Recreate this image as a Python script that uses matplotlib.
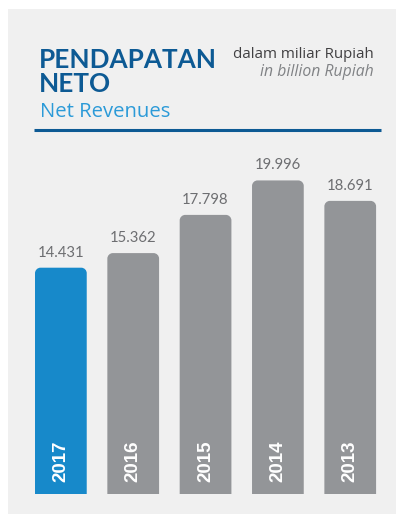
import matplotlib
matplotlib.use("Agg")
import matplotlib.pyplot as plt
from matplotlib.patches import Rectangle, PathPatch
from matplotlib.path import Path
from matplotlib.lines import Line2D
from matplotlib.transforms import IdentityTransform

# Net revenues, in billion Rupiah
years = ["2017", "2016", "2015", "2014", "2013"]
revenues = [14.431, 15.362, 17.798, 19.996, 18.691]
value_labels = ["14.431", "15.362", "17.798", "19.996", "18.691"]
highlight_year = "2017"

title_id = ["PENDAPATAN", "NETO"]
title_en = "Net Revenues"
unit_id = "dalam miliar Rupiah"
unit_en = "in billion Rupiah"

BLUE_DARK = "#0d5a94"
BLUE_LIGHT = "#2b9ad8"
BAR_BLUE = "#1789ca"
BAR_GREY = "#939598"
PANEL = "#f0f0f0"
TEXT_GREY = "#6d6e71"

W, H, DPI = 396, 514, 100
fig = plt.figure(figsize=(W / DPI, H / DPI), dpi=DPI)
fig.patch.set_facecolor("white")


def fx(px):
    return px / W


def fy(py):
    return 1 - py / H


# light grey card behind everything
fig.patches.append(Rectangle((fx(8), 0), 1 - fx(8), fy(9), transform=fig.transFigure,
                             facecolor=PANEL, edgecolor="none", zorder=-1))

# headings
fig.text(fx(39), fy(68), title_id[0], fontfamily="Lato", fontweight="bold",
         fontsize=18.8, color=BLUE_DARK, ha="left", va="baseline")
fig.text(fx(39), fy(91.5), title_id[1], fontfamily="Lato", fontweight="bold",
         fontsize=18.8, color=BLUE_DARK, ha="left", va="baseline")
fig.text(fx(40), fy(117), title_en, fontfamily="Open Sans", fontsize=14.6,
         color=BLUE_LIGHT, ha="left", va="baseline")
fig.text(fx(374), fy(58.5), unit_id, fontfamily="Open Sans", fontsize=10.8,
         color="#414042", ha="right", va="baseline")
fig.text(fx(374), fy(76.5), unit_en, fontfamily="Open Sans", fontstyle="italic",
         fontsize=11.3, color="#808285", ha="right", va="baseline")

# rule under the heading
fig.lines.append(Line2D([fx(34), fx(381)], [fy(130), fy(130)], transform=fig.transFigure,
                        color=BLUE_DARK, linewidth=2.2, solid_capstyle="butt"))

# bar chart area
ax = fig.add_axes([fx(24.7), fy(494), fx(361.7), 345 / H])
ax.set_xlim(-0.5, len(years) - 0.5)
ax.set_ylim(0, 22)
ax.axis("off")

colors = [BAR_BLUE if y == highlight_year else BAR_GREY for y in years]
bars = ax.bar(range(len(years)), revenues, width=0.715, color=colors)

# replace square bars with ones rounded at the top corners
fig.canvas.draw()
radius = 5.5
k = 0.5523
for rect, c in zip(bars, colors):
    x0, y0 = rect.get_x(), rect.get_y()
    x1, y1 = x0 + rect.get_width(), y0 + rect.get_height()
    (dx0, dy0), (dx1, dy1) = ax.transData.transform([(x0, y0), (x1, y1)])
    r = radius
    verts = [(dx0, dy0), (dx0, dy1 - r),
             (dx0, dy1 - r + k * r), (dx0 + r - k * r, dy1), (dx0 + r, dy1),
             (dx1 - r, dy1),
             (dx1 - r + k * r, dy1), (dx1, dy1 - r + k * r), (dx1, dy1 - r),
             (dx1, dy0), (dx0, dy0)]
    codes = [Path.MOVETO, Path.LINETO,
             Path.CURVE4, Path.CURVE4, Path.CURVE4,
             Path.LINETO,
             Path.CURVE4, Path.CURVE4, Path.CURVE4,
             Path.LINETO, Path.CLOSEPOLY]
    rect.set_visible(False)
    ax.add_patch(PathPatch(Path(verts, codes), transform=IdentityTransform(),
                           facecolor=c, edgecolor="none", zorder=2, clip_on=False))

for i, (v, lab, yr) in enumerate(zip(revenues, value_labels, years)):
    ax.annotate(lab, (i, v), xytext=(0, 7.9), textcoords="offset points",
                ha="center", va="baseline", fontfamily="Lato", fontsize=10.7,
                color=TEXT_GREY, zorder=5)
    ax.annotate(yr, (i, 0), xytext=(0, 8.6), textcoords="offset points",
                ha="center", va="bottom", rotation=90,
                fontfamily="Liberation Sans", fontweight="bold", fontsize=13.5,
                color="white", zorder=5)

fig.savefig("out.png", dpi=DPI)
